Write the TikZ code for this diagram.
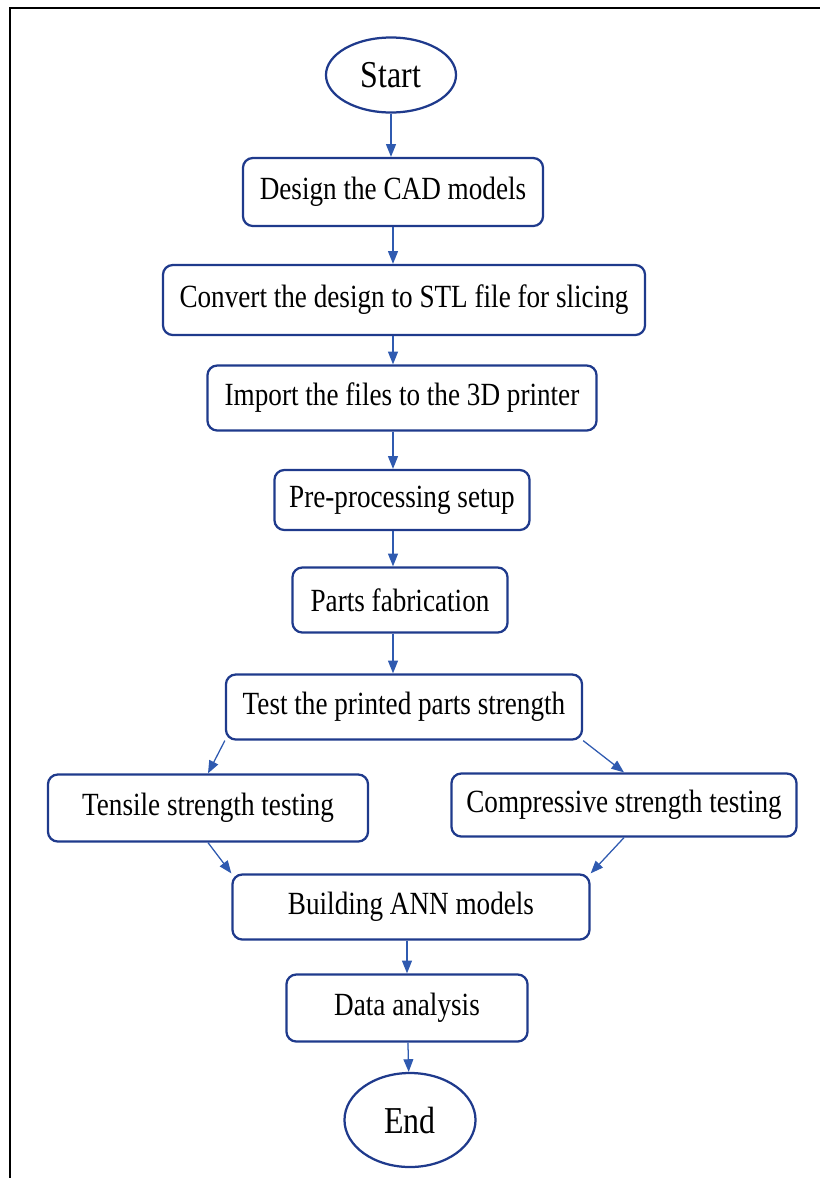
\documentclass[tikz,border=0pt]{standalone}
\usepackage{fontspec}
\setmainfont{Liberation Serif}[FakeStretch=0.84]
\usetikzlibrary{arrows.meta,shapes}
\definecolor{boxblue}{RGB}{31,58,140}
\definecolor{arrblue}{RGB}{47,90,176}

\begin{document}
\begin{tikzpicture}[x=0.025cm, y=-0.025cm, >={Triangle[length=9pt,width=7pt]},
  box/.style={draw=boxblue, line width=1.6pt, rounded corners=7pt, inner sep=2pt, font=\fontsize{23}{27}\selectfont},
  term/.style={ellipse, draw=boxblue, line width=1.6pt, inner sep=0pt, font=\fontsize{27}{31}\selectfont},
  flow/.style={->, draw=arrblue, fill=arrblue, line width=0.9pt}]

\useasboundingbox (0,0) rectangle (820,1178);

% frame, only left and top edges show
\draw[line width=1.6pt] (10,1190) -- (10,8) -- (830,8);

  \node [term, minimum width=3.25cm, minimum height=1.875cm] (start) at (391,75) {Start};
  \node [box, minimum width=7.5cm, minimum height=1.7cm] (design) at (393,192) {Design the CAD models};
  \node [box, minimum width=12.05cm, minimum height=1.75cm] (convert) at (404,300) {Convert the design to STL file for slicing};
  \node [box, minimum width=9.725cm, minimum height=1.625cm] (import) at (402,398) {Import the files to the 3D printer};
  \node [box, minimum width=6.375cm, minimum height=1.5cm] (prep) at (402,500) {Pre-processing setup};
  \node [box, minimum width=5.375cm, minimum height=1.625cm] (fab) at (400,600) {Parts fabrication};
  \node [box, minimum width=8.9cm, minimum height=1.625cm] (test) at (404,707) {Test the printed parts strength};
  \node [box, minimum width=8cm, minimum height=1.675cm] (tensile) at (208,808) {Tensile strength testing};
  \node [box, minimum width=8.625cm, minimum height=1.575cm] (comp) at (624,805) {Compressive strength testing};
  \node [box, minimum width=8.925cm, minimum height=1.625cm] (ann) at (411,907) {Building ANN models};
  \node [box, minimum width=6.025cm, minimum height=1.675cm] (data) at (407,1008) {Data analysis};
  \node [term, minimum width=3.275cm, minimum height=2.35cm] (end) at (410,1120) {End};

\draw[flow] (start) -- (start |- design.north);
\draw[flow] (design) -- (design |- convert.north);
\draw[flow] (convert.south -| design) -- (design |- import.north);
\draw[flow] (import.south -| design) -- (design |- prep.north);
\draw[flow] (prep.south -| design) -- (design |- fab.north);
\draw[flow] (fab.south -| design) -- (design |- test.north);

\draw[flow] (test.south west) -- (tensile.north);
\draw[flow] (test.south east) -- (comp.north);
\draw[flow] (tensile.south) -- (ann.north west);
\draw[flow] (comp.south) -- (ann.north east);

\draw[flow] (ann.south -| data) -- (data.north);
\draw[flow] (data) -- (end);

\end{tikzpicture}
\end{document}
